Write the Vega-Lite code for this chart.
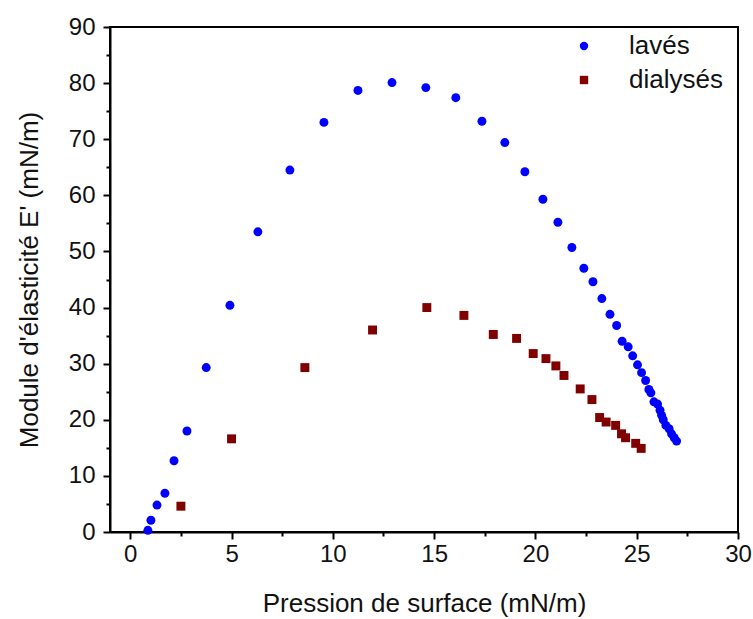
{
  "$schema": "https://vega.github.io/schema/vega-lite/v6.json",
  "width": 628,
  "height": 505,
  "autosize": {"type": "none"},
  "padding": {"left": 110, "top": 27, "right": 15, "bottom": 87},
  "background": "white",
  "config": {
    "view": {"stroke": "black", "strokeWidth": 2},
    "font": "Liberation Sans",
    "axis": {
      "domainColor": "black",
      "domainWidth": 2,
      "tickColor": "black",
      "tickWidth": 2,
      "grid": false,
      "labelFont": "Liberation Sans",
      "labelFontSize": 24,
      "labelColor": "#111111",
      "titleFont": "Liberation Sans",
      "titleFontSize": 26,
      "titleFontWeight": "normal",
      "titleColor": "#111111"
    }
  },
  "data": {
    "values": [
      {"serie": "lavés", "p": 0.87, "e": 0.3},
      {"serie": "lavés", "p": 1.02, "e": 2.1},
      {"serie": "lavés", "p": 1.32, "e": 4.8},
      {"serie": "lavés", "p": 1.71, "e": 6.9},
      {"serie": "lavés", "p": 2.16, "e": 12.7},
      {"serie": "lavés", "p": 2.8, "e": 18.0},
      {"serie": "lavés", "p": 3.75, "e": 29.3},
      {"serie": "lavés", "p": 4.92, "e": 40.4},
      {"serie": "lavés", "p": 6.3, "e": 53.5},
      {"serie": "lavés", "p": 7.88, "e": 64.5},
      {"serie": "lavés", "p": 9.56, "e": 73.0},
      {"serie": "lavés", "p": 11.24, "e": 78.7},
      {"serie": "lavés", "p": 12.92, "e": 80.1},
      {"serie": "lavés", "p": 14.59, "e": 79.2},
      {"serie": "lavés", "p": 16.07, "e": 77.4},
      {"serie": "lavés", "p": 17.36, "e": 73.2},
      {"serie": "lavés", "p": 18.49, "e": 69.4},
      {"serie": "lavés", "p": 19.48, "e": 64.2},
      {"serie": "lavés", "p": 20.37, "e": 59.3},
      {"serie": "lavés", "p": 21.11, "e": 55.2},
      {"serie": "lavés", "p": 21.8, "e": 50.7},
      {"serie": "lavés", "p": 22.39, "e": 47.0},
      {"serie": "lavés", "p": 22.84, "e": 44.6},
      {"serie": "lavés", "p": 23.28, "e": 41.6},
      {"serie": "lavés", "p": 23.68, "e": 38.8},
      {"serie": "lavés", "p": 24.01, "e": 36.8},
      {"serie": "lavés", "p": 24.28, "e": 34.0},
      {"serie": "lavés", "p": 24.58, "e": 33.0},
      {"serie": "lavés", "p": 24.8, "e": 31.4},
      {"serie": "lavés", "p": 25.04, "e": 29.8},
      {"serie": "lavés", "p": 25.24, "e": 28.4},
      {"serie": "lavés", "p": 25.44, "e": 27.0},
      {"serie": "lavés", "p": 25.6, "e": 25.4},
      {"serie": "lavés", "p": 25.7, "e": 24.8},
      {"serie": "lavés", "p": 25.85, "e": 23.2},
      {"serie": "lavés", "p": 26.03, "e": 22.8},
      {"serie": "lavés", "p": 26.15, "e": 21.7},
      {"serie": "lavés", "p": 26.23, "e": 20.8},
      {"serie": "lavés", "p": 26.31, "e": 20.0},
      {"serie": "lavés", "p": 26.44, "e": 19.0},
      {"serie": "lavés", "p": 26.6, "e": 18.4},
      {"serie": "lavés", "p": 26.72, "e": 17.5},
      {"serie": "lavés", "p": 26.85, "e": 16.8},
      {"serie": "lavés", "p": 26.97, "e": 16.2},
      {"serie": "dialysés", "p": 2.5, "e": 4.6},
      {"serie": "dialysés", "p": 5.0, "e": 16.6},
      {"serie": "dialysés", "p": 8.62, "e": 29.3},
      {"serie": "dialysés", "p": 11.96, "e": 36.0},
      {"serie": "dialysés", "p": 14.64, "e": 40.0},
      {"serie": "dialysés", "p": 16.47, "e": 38.6},
      {"serie": "dialysés", "p": 17.92, "e": 35.2},
      {"serie": "dialysés", "p": 19.07, "e": 34.5},
      {"serie": "dialysés", "p": 19.89, "e": 31.8},
      {"serie": "dialysés", "p": 20.52, "e": 30.9},
      {"serie": "dialysés", "p": 21.01, "e": 29.6},
      {"serie": "dialysés", "p": 21.41, "e": 27.9},
      {"serie": "dialysés", "p": 22.21, "e": 25.5},
      {"serie": "dialysés", "p": 22.79, "e": 23.6},
      {"serie": "dialysés", "p": 23.17, "e": 20.4},
      {"serie": "dialysés", "p": 23.49, "e": 19.6},
      {"serie": "dialysés", "p": 23.96, "e": 19.0},
      {"serie": "dialysés", "p": 24.25, "e": 17.5},
      {"serie": "dialysés", "p": 24.45, "e": 16.8},
      {"serie": "dialysés", "p": 24.95, "e": 15.8},
      {"serie": "dialysés", "p": 25.22, "e": 14.9}
    ]
  },
  "mark": {"type": "point", "filled": true, "opacity": 1},
  "encoding": {
    "x": {
      "field": "p",
      "type": "quantitative",
      "scale": {"domain": [-1, 30], "nice": false, "zero": false},
      "axis": {
        "title": "Pression de surface (mN/m)",
        "values": [0, 2.5, 5, 7.5, 10, 12.5, 15, 17.5, 20, 22.5, 25, 27.5, 30],
        "labelExpr": "datum.value % 5 === 0 ? datum.label : ''",
        "tickSize": {"condition": {"test": "datum.value % 5 === 0", "value": 7}, "value": 4},
        "labelPadding": 3,
        "titlePadding": 24,
        "labelFlush": false,
        "labelOverlap": false
      }
    },
    "y": {
      "field": "e",
      "type": "quantitative",
      "scale": {"domain": [0, 90], "nice": false},
      "axis": {
        "title": "Module d'élasticité E' (mN/m)",
        "values": [0, 5, 10, 15, 20, 25, 30, 35, 40, 45, 50, 55, 60, 65, 70, 75, 80, 85, 90],
        "labelExpr": "datum.value % 10 === 0 ? datum.label : ''",
        "tickSize": {"condition": {"test": "datum.value % 10 === 0", "value": 7}, "value": 4},
        "labelPadding": 8,
        "titlePadding": 26,
        "labelFlush": false,
        "labelOverlap": false
      }
    },
    "color": {
      "field": "serie",
      "type": "nominal",
      "scale": {"domain": ["lavés", "dialysés"], "range": ["#0000ff", "#800000"]},
      "legend": {
        "title": null,
        "orient": "none",
        "legendX": 461,
        "legendY": 6,
        "padding": 0,
        "labelFont": "Liberation Sans",
        "labelFontSize": 26,
        "labelColor": "#111111",
        "labelOffset": 32,
        "rowPadding": 8,
        "symbolSize": 70
      }
    },
    "shape": {
      "field": "serie",
      "type": "nominal",
      "scale": {"domain": ["lavés", "dialysés"], "range": ["circle", "square"]}
    },
    "size": {"value": 80}
  }
}
